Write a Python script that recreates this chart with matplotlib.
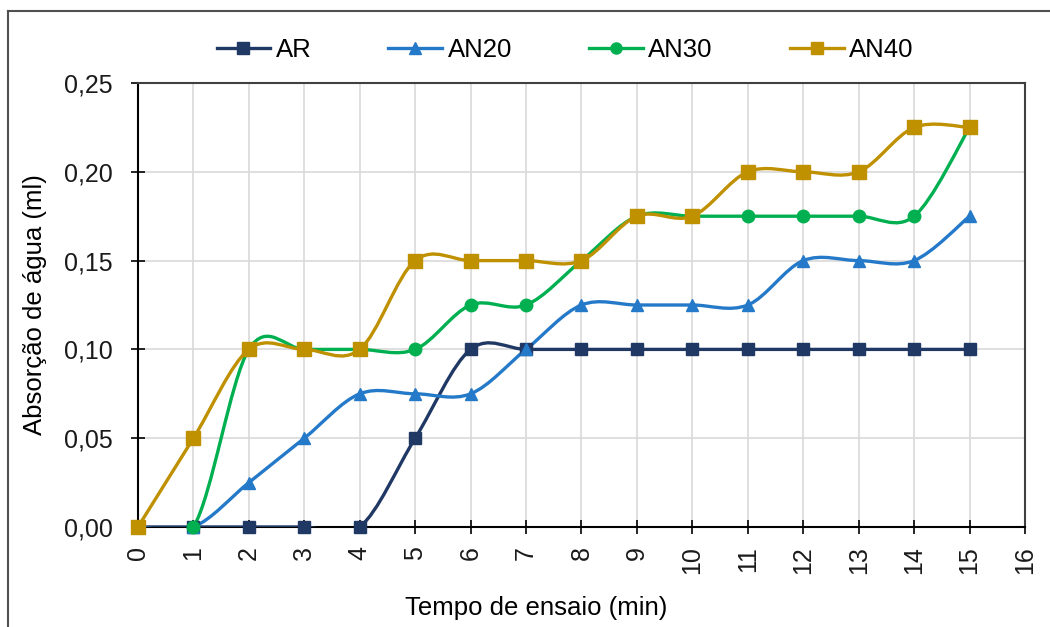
import numpy as np
import matplotlib
matplotlib.use("Agg")
import matplotlib.pyplot as plt
from matplotlib.path import Path
from matplotlib.patches import PathPatch
from matplotlib.lines import Line2D

plt.rcParams['font.family'] = ['Liberation Sans', 'DejaVu Sans']

tempo = [0, 1, 2, 3, 4, 5, 6, 7, 8, 9, 10, 11, 12, 13, 14, 15]
ar = [0, 0, 0, 0, 0, 0.05, 0.1, 0.1, 0.1, 0.1, 0.1, 0.1, 0.1, 0.1, 0.1, 0.1]
an20 = [0, 0, 0.025, 0.05, 0.075, 0.075, 0.075, 0.1, 0.125, 0.125, 0.125,
        0.125, 0.15, 0.15, 0.15, 0.175]
an30 = [0, 0, 0.1, 0.1, 0.1, 0.1, 0.125, 0.125, 0.15, 0.175, 0.175,
        0.175, 0.175, 0.175, 0.175, 0.225]
an40 = [0, 0.05, 0.1, 0.1, 0.1, 0.15, 0.15, 0.15, 0.15, 0.175, 0.175,
        0.2, 0.2, 0.2, 0.225, 0.225]

series = [
    ("AR", ar, "#1F3864", "s", 9),
    ("AN20", an20, "#2479C8", "^", 9),
    ("AN30", an30, "#00B050", "o", 9),
    ("AN40", an40, "#BF9000", "s", 10),
]


def smooth_path(x, y):
    # Bezier segments with Catmull-Rom style control points (smoothed line)
    pts = np.column_stack([x, y]).astype(float)
    n = len(pts)
    verts = [pts[0]]
    codes = [Path.MOVETO]
    for i in range(n - 1):
        p0 = pts[i - 1] if i > 0 else pts[i]
        p1 = pts[i]
        p2 = pts[i + 1]
        p3 = pts[i + 2] if i + 2 < n else pts[i + 1]
        c1 = p1 + (p2 - p0) / 6.0
        c2 = p2 - (p3 - p1) / 6.0
        verts += [c1, c2, p2]
        codes += [Path.CURVE4] * 3
    return Path(verts, codes)


fig = plt.figure(figsize=(10.5, 6.27), dpi=100)
ax = fig.add_axes([0.1314, 0.1595, 0.8448, 0.7081])

for name, vals, color, marker, ms in series:
    patch = PathPatch(smooth_path(tempo, vals), facecolor="none",
                      edgecolor=color, lw=2.4, zorder=3)
    ax.add_patch(patch)
    ax.plot(tempo, vals, linestyle="none", marker=marker, markersize=ms,
            color=color, zorder=4, clip_on=False)

ax.set_xlim(0, 16)
ax.set_ylim(0, 0.25)
ax.set_xticks(range(0, 17))
ax.set_xticklabels([str(v) for v in range(0, 17)], rotation=90)
ax.set_yticks([0, 0.05, 0.10, 0.15, 0.20, 0.25])
ax.set_yticklabels(["0,00", "0,05", "0,10", "0,15", "0,20", "0,25"])
ax.tick_params(axis="both", direction="inout", length=10, width=1.2,
               colors="black", labelsize=18, labelcolor="#1a1a1a")
ax.tick_params(axis="x", pad=9)
ax.tick_params(axis="y", pad=13)
ax.grid(True, color="#D9D9D9", lw=1.2, zorder=0)
ax.set_axisbelow(True)
for side in ["top", "right"]:
    ax.spines[side].set_color("#404040")
    ax.spines[side].set_linewidth(1.5)
for side in ["left", "bottom"]:
    ax.spines[side].set_color("black")
    ax.spines[side].set_linewidth(1.5)

ax.set_xlabel("Tempo de ensaio (min)", fontsize=18.5, labelpad=15)
ax.xaxis.set_label_coords(0.449, -0.155)
ax.set_ylabel("Absorção de água (ml)", fontsize=18.5, labelpad=12)

handles = [Line2D([], [], color=c, lw=2.4, marker=m, markersize=ms - 1)
           for _, _, c, m, ms in series]
fig.legend(handles, [s[0] for s in series], loc="center",
           bbox_to_anchor=(0.538, 0.92), ncol=4, frameon=False,
           fontsize=18.5, handlelength=2.1, columnspacing=3.0,
           handletextpad=0.2)

# outer chart frame (left and top edges)
fig.add_artist(Line2D([0.0076, 0.0076], [0.0, 0.9825], color="#505050",
                      lw=1.5, transform=fig.transFigure))
fig.add_artist(Line2D([0.0076, 1.0], [0.9825, 0.9825], color="#505050",
                      lw=1.5, transform=fig.transFigure))

fig.savefig("out.png", dpi=100)
